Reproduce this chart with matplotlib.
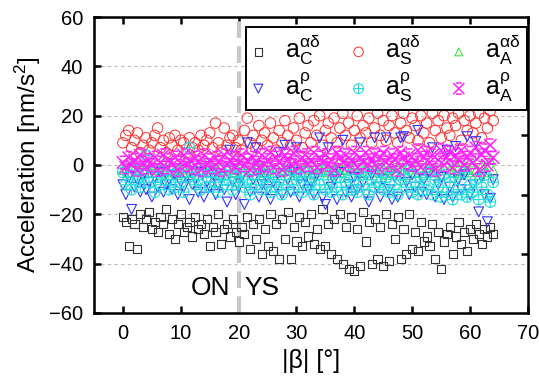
import matplotlib
matplotlib.use("Agg")
import matplotlib.pyplot as plt
from matplotlib.path import Path
import numpy as np

plt.rcParams['font.family'] = ['Liberation Sans', 'DejaVu Sans']
plt.rcParams['mathtext.fontset'] = 'custom'
plt.rcParams['mathtext.rm'] = 'Liberation Sans'
plt.rcParams['mathtext.it'] = 'Liberation Sans'

# |beta| sampling grid (degrees)
beta = np.arange(0, 64.5, 0.5)

# a_C^alpha-delta (black squares)
aC_ad = [-21, -23, -33, -22, -24, -34, -20, -25, -22,
         -19, -26, -23, -27, -21, -24, -18, -28,
         -22, -30, -24, -20, -27, -25, -23, -29,
         -21, -26, -24, -28, -22, -33, -25, -27,
         -20, -32, -26, -24, -29, -22, -27, -31,
         -25, -28, -21, -34, -24, -30, -22, -36,
         -26, -33, -20, -35, -24, -38, -22, -30,
         -19, -38, -25, -31, -21, -33, -23, -29,
         -20, -32, -26, -34, -18, -33, -24, -36,
         -22, -38, -20, -40, -25, -42, -21, -43,
         -26, -41, -19, -31, -23, -40, -22, -38,
         -25, -41, -20, -39, -24, -30, -21, -38,
         -26, -36, -20, -34, -27, -35, -23, -31,
         -29, -33, -24, -38, -27, -42, -31, -28,
         -25, -36, -29, -23, -32, -27, -35, -26,
         -30, -24, -28, -32, -26, -29, -25, -28]

# a_S^alpha-delta (red circles)
aS_ad = [9, 12, 14, 7, 10, 13, 5, 8, 11,
         6, 9, 12, 15, 7, 10, 5, 11,
         8, 12, 6, 10, 9, 5, 11, 7,
         9, 6, 12, 8, 10, 13, 7, 17,
         9, 6, 15, 8, 11, 12, 7, 10,
         6, 14, 19, 9, 12, 7, 16, 10,
         13, 8, 17, 11, 6, 14, 9, 18,
         12, 8, 15, 10, 19, 7, 13, 16,
         9, 18, 12, 20, 8, 14, 17, 11,
         19, 9, 15, 21, 12, 17, 8, 14,
         20, 11, 16, 13, 19, 9, 15, 21,
         12, 18, 10, 16, 20, 13, 9, 17,
         21, 14, 11, 19, 16, 10, 20, 13,
         17, 9, 21, 14, 18, 11, 20, 15,
         12, 19, 16, 21, 10, 18, 14, 20,
         13, 17, 21, 11, 19, 15, 22, 18]

# a_A^alpha-delta (green triangles)
aA_ad = [-2, 0, -3, 1, -1, -4, 0, -2, 1,
         -3, -1, 0, -2, -4, 1, -1, -3,
         0, -2, -4, -1, 1, -3, -2, 0,
         -1, -4, -2, 1, -3, 0, -1, -2,
         -4, 0, -2, -1, 1, -3, -2, -4,
         0, -1, -3, 1, -2, -4, 0, -1,
         -3, -2, 1, -4, -1, 0, -3, -2,
         1, -1, -4, -2, 0, -3, -1, 1,
         -2, -4, 0, -1, -3, 1, -2, -4,
         -1, 0, -3, -2, 1, -4, -1, 0,
         -2, -3, 1, -1, -4, 0, -2, -3,
         1, -1, -4, -2, 0, -3, -1, 1,
         -2, -4, 0, -1, -3, 1, -2, -4,
         -1, 0, -3, -2, 1, -4, -1, 0,
         -2, -3, 1, -1, -4, 0, -2, -3,
         1, -2, -4, 0, -1, -3, 2, -2]

# a_C^rho (blue down triangles)
aC_rho = [-8, -12, -5, -18, -9, -6, -11, -4, -10,
          -7, -13, -5, -9, -3, -11, -8, -6,
          -10, -4, -12, -7, -9, -5, -14, -8,
          -6, -11, -3, -13, -7, -9, -4, -12,
          -8, -5, -10, -15, 6, -7, -12, -9,
          -5, -16, 9, -11, -6, 7, -13, -8,
          -4, -10, -14, -7, -9, 5, -12, 8,
          -6, -11, -3, 7, -13, -8, -5, -10,
          -7, -12, -4, 11, -13, -16, 7, -9,
          -6, -14, -3, 10, -11, -8, -13, -5,
          -10, 9, -7, -12, -15, -4, 11, -9,
          -13, -6, 11, -10, -14, -5, -13, 11,
          11.5, -7, -12, -4, -9, 14, -11, -6,
          -12, -3, 7, -13, -8, -5, -14, 6,
          -9, -13, 7.5, -6, -10, -4, 11.5, -12,
          -8, 9.5, -19, -5, -12, -23, -13.5, -6]

# a_S^rho (cyan circle-plus)
aS_rho = [-3, -8, -5, -10, -2, -6, -9, -4, 4,
          -7, -3, -11, -5, -8, -2, -6, -10,
          -4, -9, -2, -7, -11, -5, 7, -3,
          -8, -6, -10, -2, -5, -9, -3, -7,
          -11, -4, -6, -8, -2, -10, -5, -7,
          -3, -9, -6, -12, -4, -8, -2, -10,
          -5, -7, -11, -3, -9, -6, -12, -4,
          -8, -2, -10, -6, -5, -11, -3, -9,
          -7, -12, -4, -8, -2, -10, -6, -11,
          -3, -9, -5, -12, -7, -2, -10, -6,
          -11, -4, -8, -3, -12, -6, -9, -2,
          -7, -10, -5, -11, -3, -8, -12, -6,
          -4, -9, -2, -11, -7, -12, -5, -8,
          -10, -3, -12, -6, -9, -13, -4, -11,
          -7, -14, -5, -10, -12, -3, -13, -8,
          -11, -6, -14, -9, -4, -12, -15, -7]

# a_A^rho (magenta stars)
aA_rho = [1, -1, 3, 0, 2, -2, 4, 1, -1,
          2, 0, 3, -2, 1, 4, -1, 2,
          0, 3, -2, 1, 4, 0, 2, -1,
          3, 1, -2, 4, 0, 2, -1, 3,
          1, -2, 4, 0, 2, 3, -1, 1,
          4, 0, 2, -2, 3, 1, -1, 4,
          0, 2, 5, -1, 3, 1, -2, 4,
          2, 0, 5, 1, -1, 3, 4, 0,
          2, 5, -1, 3, 1, 4, 0, 2,
          -2, 5, 3, 1, 4, 0, 2, 5,
          -1, 3, 1, 5, 0, 2, 4, -1,
          3, 5, 1, 0, 4, 2, -2, 5,
          3, 1, 4, 0, 2, 6, -1, 3,
          5, 1, 4, -2, 2, 6, 0, 3,
          5, -1, 4, 2, 6, 0, 3, 5,
          1, 7, -2, 4, 6, 0, 8, 3]

circle_plus = Path.make_compound_path(
    Path.unit_circle(),
    Path([[-1, 0], [1, 0], [0, -1], [0, 1]],
         [Path.MOVETO, Path.LINETO, Path.MOVETO, Path.LINETO]))
star = Path([[-1, -1], [1, 1], [-1, 1], [1, -1], [-0.5, 1], [0.5, 1], [-0.5, -1], [0.5, -1]],
            [Path.MOVETO, Path.LINETO, Path.MOVETO, Path.LINETO,
             Path.MOVETO, Path.LINETO, Path.MOVETO, Path.LINETO])

fig = plt.figure(figsize=(5.39, 3.78), dpi=100)
ax = fig.add_axes([0.1744, 0.172, 0.805, 0.783])

h1 = ax.scatter(beta, aC_ad, marker='s', s=34, facecolors='none', edgecolors='#333333', linewidths=0.8,
                label=r'$\mathrm{a}_\mathrm{C}^{\alpha\delta}$', zorder=3)
h2 = ax.scatter(beta, aS_ad, marker='o', s=58, facecolors='none', edgecolors='#ff3030', linewidths=0.7,
                label=r'$\mathrm{a}_\mathrm{S}^{\alpha\delta}$', zorder=3)
h3 = ax.scatter(beta, aA_ad, marker='^', s=40, facecolors='none', edgecolors='#33dd33', linewidths=0.7,
                label=r'$\mathrm{a}_\mathrm{A}^{\alpha\delta}$', zorder=3)
h4 = ax.scatter(beta, aC_rho, marker='v', s=50, facecolors='none', edgecolors='#3333ff', linewidths=0.8,
                label=r'$\mathrm{a}_\mathrm{C}^{\rho}$', zorder=3)
h5 = ax.scatter(beta, aS_rho, marker=circle_plus, s=60, facecolors='none', edgecolors='#22dddd', linewidths=0.8,
                label=r'$\mathrm{a}_\mathrm{S}^{\rho}$', zorder=3)
h6 = ax.scatter(beta, aA_rho, marker=star, s=80, facecolors='none', edgecolors='#ff22ff', linewidths=1.1,
                label=r'$\mathrm{a}_\mathrm{A}^{\rho}$', zorder=3)

ax.axvline(20, color='#c8c8c8', lw=3, linestyle=(0, (4, 2)), zorder=2)
ax.text(18.6, -50, 'ON', fontsize=19, ha='right', va='center')
ax.text(21.0, -50, 'YS', fontsize=19, ha='left', va='center')

ax.set_xlim(-5, 70)
ax.set_ylim(-60, 60)
ax.set_xticks(range(0, 71, 10))
ax.set_yticks(range(-60, 61, 20))
ax.grid(axis='y', color='#bbbbbb', linestyle=(0, (3, 3)), lw=0.8, zorder=0)
ax.tick_params(direction='in', length=5, width=1.8, labelsize=14.5, top=True)
ax.tick_params(axis='both', which='major', pad=8)
for sp in ax.spines.values():
    sp.set_linewidth(1.8)

ax2 = ax.twinx()
ax2.set_ylim(0, 1)
ax2.set_yticks([0.2, 0.4, 0.6, 0.8])
ax2.tick_params(direction='in', length=5, width=1.8, labelright=False)

ax.set_xlabel('|β| [°]', fontsize=18)
ax.set_ylabel('Acceleration [nm/s$^2$]', fontsize=17.5)

leg = ax2.legend(handles=[h1, h4, h2, h5, h3, h6], ncol=3, loc='upper right',
                 bbox_to_anchor=(0.997, 0.966), borderaxespad=0, fontsize=18, frameon=True,
                 fancybox=False, edgecolor='black', handlelength=0.5, handletextpad=0.8,
                 columnspacing=1.3, borderpad=0.25, labelspacing=0.15, markerscale=0.9, framealpha=1)
leg.get_frame().set_linewidth(1.4)

fig.savefig('out.png', dpi=100)
